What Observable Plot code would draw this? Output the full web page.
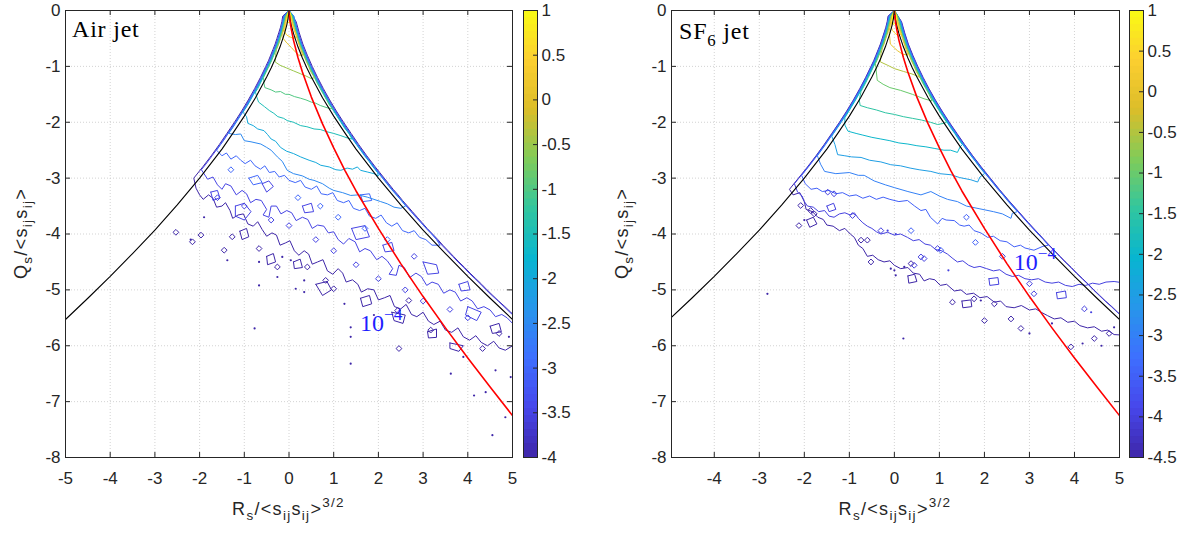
<!DOCTYPE html>
<html><head><meta charset="utf-8">
<script src="https://cdn.jsdelivr.net/npm/d3@7"></script>
<script src="https://cdn.jsdelivr.net/npm/@observablehq/plot@0.6"></script>
<style>
html,body{margin:0;padding:0;background:#fff;}
#chart{position:relative;width:1183px;height:537px;overflow:hidden;background:#fff;}
#chart>div{position:absolute;top:0;}
</style></head><body><div id="chart"></div>
<script>
const FONT = "'Liberation Sans', Arial, Helvetica, sans-serif";
const SERIF = "'Liberation Serif', 'Times New Roman', serif";
const INK = "#262626";

// ---------- axes / ticks ----------
const xTicksAir = [-5,-4,-3,-2,-1,0,1,2,3,4,5];
const xTicksSF6 = [-4,-3,-2,-1,0,1,2,3,4,5];
const yTicks = [-8,-7,-6,-5,-4,-3,-2,-1,0];
const cbTicksAir = [-4,-3.5,-3,-2.5,-2,-1.5,-1,-0.5,0,0.5,1];
const cbTicksSF6 = [-4.5,-4,-3.5,-3,-2.5,-2,-1.5,-1,-0.5,0,0.5,1];

// ---------- Vieillefosse (black) line ----------
const vieilleR = [-5,-4.5,-4,-3.5,-3,-2.5,-2,-1.75,-1.5,-1.25,-1,-0.75,-0.5,-0.4,-0.3,-0.2,-0.1,-0.05,-0.02,0,0.02,0.05,0.1,0.2,0.3,0.4,0.5,0.75,1,1.25,1.5,1.75,2,2.5,3,3.5,4,4.5,5];
const vieilleQ = [-5.53,-5.15,-4.76,-4.35,-3.93,-3.48,-3.0,-2.74,-2.48,-2.19,-1.89,-1.56,-1.19,-1.03,-0.85,-0.65,-0.41,-0.26,-0.14,0,-0.14,-0.26,-0.41,-0.65,-0.85,-1.03,-1.19,-1.56,-1.89,-2.19,-2.48,-2.74,-3.0,-3.48,-3.93,-4.35,-4.76,-5.15,-5.53];

// ---------- red line ----------
const redR = [0,0.02,0.05,0.1,0.2,0.3,0.5,0.75,1,1.25,1.5,2,2.5,3,3.5,4,4.5,5];
const redQAir = [0,-0.18,-0.33,-0.53,-0.84,-1.1,-1.55,-2.03,-2.46,-2.86,-3.23,-3.9,-4.53,-5.12,-5.68,-6.22,-6.74,-7.25];
const redQSF6 = [0,-0.18,-0.33,-0.53,-0.84,-1.1,-1.55,-2.03,-2.46,-2.86,-3.23,-3.9,-4.53,-5.12,-5.68,-6.22,-6.74,-7.25];

// ---------- Air jet contours: [log10 level, "R,Q R,Q ..."] ----------
const airContours = [
 [1, "0,0 -0.03,-0.08 -0.05,-0.16 -0.02,-0.22 0.03,-0.2 0.05,-0.12 0.02,-0.04 0,0"],
 [0.5, "0,0 -0.03,-0.1 -0.06,-0.2 -0.09,-0.3 -0.1,-0.38 -0.05,-0.44 0.04,-0.48 0.12,-0.5 0.17,-0.45 0.12,-0.35 0.09,-0.28 0.06,-0.2 0.03,-0.1 0,0"],
 [0, "0,0 -0.05,-0.1 -0.08,-0.2 -0.1,-0.3 -0.14,-0.4 -0.13,-0.5 -0.05,-0.58 0.05,-0.66 0.14,-0.74 0.22,-0.8 0.31,-0.8 0.26,-0.7 0.22,-0.6 0.18,-0.5 0.14,-0.4 0.1,-0.3 0.07,-0.2 0.05,-0.1 0,0"],
 [-0.5, "0,0 -0.06,-0.1 -0.09,-0.2 -0.12,-0.3 -0.15,-0.4 -0.19,-0.5 -0.23,-0.6 -0.28,-0.7 -0.3,-0.8 -0.31,-0.92 -0.2,-0.98 -0.05,-1.03 0.1,-1.08 0.25,-1.13 0.4,-1.18 0.5,-1.22 0.57,-1.2 0.49,-1.1 0.44,-1.0 0.38,-0.9 0.33,-0.8 0.28,-0.7 0.23,-0.6 0.19,-0.5 0.15,-0.4 0.11,-0.3 0.08,-0.2 0.05,-0.1 0,0"],
 [-1, "0,0 -0.07,-0.1 -0.1,-0.2 -0.13,-0.3 -0.16,-0.4 -0.2,-0.5 -0.24,-0.6 -0.29,-0.7 -0.34,-0.8 -0.39,-0.9 -0.45,-1.0 -0.51,-1.1 -0.57,-1.2 -0.56,-1.3 -0.54,-1.38 -0.4,-1.42 -0.3,-1.46 -0.19,-1.45 -0.08,-1.5 0.0,-1.5 0.12,-1.54 0.26,-1.57 0.38,-1.6 0.5,-1.64 0.6,-1.66 0.7,-1.7 0.85,-1.74 0.98,-1.76 0.91,-1.7 0.84,-1.6 0.77,-1.5 0.7,-1.4 0.63,-1.3 0.57,-1.2 0.51,-1.1 0.45,-1.0 0.39,-0.9 0.34,-0.8 0.29,-0.7 0.24,-0.6 0.2,-0.5 0.16,-0.4 0.13,-0.3 0.1,-0.2 0.07,-0.1 0,0"],
 [-1.5, "0,0 -0.08,-0.1 -0.11,-0.2 -0.14,-0.3 -0.17,-0.4 -0.21,-0.5 -0.25,-0.6 -0.3,-0.7 -0.35,-0.8 -0.4,-0.9 -0.46,-1.0 -0.52,-1.1 -0.58,-1.2 -0.64,-1.3 -0.7,-1.4 -0.75,-1.46 -0.72,-1.55 -0.68,-1.64 -0.55,-1.72 -0.44,-1.79 -0.34,-1.84 -0.25,-1.9 -0.12,-1.93 -0.04,-1.97 0.1,-2.0 0.26,-2.06 0.4,-2.08 0.56,-2.12 0.7,-2.13 0.85,-2.17 1.0,-2.2 1.16,-2.24 1.3,-2.28 1.41,-2.3 1.34,-2.2 1.24,-2.1 1.16,-2.0 1.08,-1.9 1.0,-1.8 0.92,-1.7 0.85,-1.6 0.78,-1.5 0.71,-1.4 0.64,-1.3 0.58,-1.2 0.52,-1.1 0.46,-1.0 0.4,-0.9 0.35,-0.8 0.3,-0.7 0.25,-0.6 0.21,-0.5 0.17,-0.4 0.14,-0.3 0.11,-0.2 0.08,-0.1 0,0"],
 [-2, "0,0 -0.09,-0.1 -0.12,-0.2 -0.15,-0.3 -0.18,-0.4 -0.22,-0.5 -0.26,-0.6 -0.31,-0.7 -0.36,-0.8 -0.41,-0.9 -0.47,-1.0 -0.53,-1.1 -0.59,-1.2 -0.65,-1.3 -0.72,-1.4 -0.79,-1.5 -0.86,-1.6 -0.93,-1.7 -1.03,-1.82 -0.95,-1.9 -0.92,-2.02 -0.8,-2.06 -0.7,-2.12 -0.56,-2.15 -0.48,-2.22 -0.4,-2.3 -0.3,-2.34 -0.19,-2.45 -0.05,-2.52 0.1,-2.56 0.26,-2.62 0.45,-2.68 0.6,-2.72 0.71,-2.77 0.9,-2.8 1.05,-2.85 1.16,-2.86 1.3,-2.82 1.42,-2.84 1.53,-2.8 1.6,-2.86 1.75,-2.89 1.9,-2.92 2.0,-2.96 1.98,-2.9 1.88,-2.8 1.79,-2.7 1.69,-2.6 1.6,-2.5 1.51,-2.4 1.42,-2.3 1.34,-2.2 1.25,-2.1 1.17,-2.0 1.09,-1.9 1.01,-1.8 0.93,-1.7 0.86,-1.6 0.79,-1.5 0.72,-1.4 0.65,-1.3 0.59,-1.2 0.53,-1.1 0.47,-1.0 0.41,-0.9 0.36,-0.8 0.31,-0.7 0.26,-0.6 0.22,-0.5 0.18,-0.4 0.15,-0.3 0.12,-0.2 0.09,-0.1 0,0"],
 [-2.5, "0,0 -0.1,-0.1 -0.13,-0.2 -0.16,-0.3 -0.19,-0.4 -0.23,-0.5 -0.27,-0.6 -0.32,-0.7 -0.37,-0.8 -0.42,-0.9 -0.48,-1.0 -0.54,-1.1 -0.6,-1.2 -0.66,-1.3 -0.73,-1.4 -0.8,-1.5 -0.87,-1.6 -0.94,-1.7 -1.02,-1.8 -1.1,-1.9 -1.18,-2.0 -1.26,-2.1 -1.35,-2.2 -1.2,-2.22 -1.08,-2.21 -1.0,-2.33 -0.85,-2.35 -0.63,-2.39 -0.5,-2.45 -0.4,-2.5 -0.26,-2.62 -0.15,-2.7 -0.04,-2.86 0.1,-2.92 0.3,-2.96 0.45,-3.02 0.56,-3.04 0.75,-3.1 0.9,-3.18 1.0,-3.22 1.2,-3.26 1.38,-3.31 1.55,-3.3 1.75,-3.34 1.9,-3.38 2.05,-3.42 2.2,-3.46 2.35,-3.52 2.5,-3.54 2.61,-3.5 2.52,-3.4 2.4,-3.3 2.29,-3.2 2.19,-3.1 2.09,-3.0 1.99,-2.9 1.89,-2.8 1.8,-2.7 1.7,-2.6 1.61,-2.5 1.52,-2.4 1.43,-2.3 1.35,-2.2 1.26,-2.1 1.18,-2.0 1.1,-1.9 1.02,-1.8 0.94,-1.7 0.87,-1.6 0.8,-1.5 0.73,-1.4 0.66,-1.3 0.6,-1.2 0.54,-1.1 0.48,-1.0 0.42,-0.9 0.37,-0.8 0.32,-0.7 0.27,-0.6 0.23,-0.5 0.19,-0.4 0.16,-0.3 0.13,-0.2 0.1,-0.1 0,0"],
 [-3, "0,0 -0.11,-0.1 -0.14,-0.2 -0.17,-0.3 -0.2,-0.4 -0.24,-0.5 -0.28,-0.6 -0.33,-0.7 -0.38,-0.8 -0.43,-0.9 -0.49,-1.0 -0.55,-1.1 -0.61,-1.2 -0.67,-1.3 -0.74,-1.4 -0.81,-1.5 -0.88,-1.6 -0.95,-1.7 -1.03,-1.8 -1.11,-1.9 -1.19,-2.0 -1.27,-2.1 -1.36,-2.2 -1.44,-2.3 -1.53,-2.4 -1.62,-2.5 -1.5,-2.6 -1.4,-2.55 -1.3,-2.66 -1.18,-2.6 -1.08,-2.68 -0.98,-2.74 -0.86,-2.68 -0.76,-2.78 -0.64,-2.84 -0.54,-2.78 -0.44,-2.9 -0.32,-2.88 -0.22,-2.98 -0.1,-2.95 0.0,-3.04 0.14,-3.08 0.26,-3.04 0.36,-3.16 0.5,-3.2 0.62,-3.14 0.72,-3.28 0.86,-3.3 0.98,-3.26 1.08,-3.4 1.22,-3.44 1.34,-3.4 1.44,-3.54 1.58,-3.58 1.7,-3.54 1.8,-3.68 1.94,-3.72 2.06,-3.66 2.18,-3.8 2.3,-3.86 2.42,-3.8 2.54,-3.94 2.68,-3.98 2.8,-3.94 2.92,-4.06 3.06,-4.1 3.2,-4.2 3.38,-4.2 3.3,-4.1 3.2,-4.0 3.07,-3.9 2.96,-3.8 2.84,-3.7 2.73,-3.6 2.62,-3.5 2.51,-3.4 2.41,-3.3 2.3,-3.2 2.2,-3.1 2.1,-3.0 2.0,-2.9 1.9,-2.8 1.81,-2.7 1.71,-2.6 1.62,-2.5 1.53,-2.4 1.44,-2.3 1.36,-2.2 1.27,-2.1 1.19,-2.0 1.11,-1.9 1.03,-1.8 0.95,-1.7 0.88,-1.6 0.81,-1.5 0.74,-1.4 0.67,-1.3 0.61,-1.2 0.55,-1.1 0.49,-1.0 0.43,-0.9 0.38,-0.8 0.33,-0.7 0.28,-0.6 0.24,-0.5 0.2,-0.4 0.17,-0.3 0.14,-0.2 0.11,-0.1 0,0"],
 [-3.5, "0,0 -0.12,-0.1 -0.14,-0.2 -0.17,-0.3 -0.21,-0.4 -0.25,-0.5 -0.29,-0.6 -0.34,-0.7 -0.39,-0.8 -0.44,-0.9 -0.5,-1.0 -0.62,-1.2 -0.75,-1.4 -0.89,-1.6 -1.04,-1.8 -1.2,-2.0 -1.37,-2.2 -1.54,-2.4 -1.72,-2.6 -1.86,-2.75 -1.96,-2.85 -1.82,-3.02 -1.7,-2.98 -1.6,-3.12 -1.5,-3.2 -1.42,-3.1 -1.3,-3.14 -1.18,-3.3 -1.05,-3.22 -0.95,-3.28 -0.86,-3.44 -0.74,-3.38 -0.62,-3.4 -0.5,-3.56 -0.58,-3.66 -0.45,-3.7 -0.4,-3.5 -0.28,-3.5 -0.18,-3.64 -0.05,-3.58 0.06,-3.62 0.16,-3.76 0.3,-3.7 0.42,-3.74 0.52,-3.9 0.64,-3.84 0.78,-3.86 0.88,-3.98 1.0,-3.96 1.1,-4.1 1.22,-4.18 1.34,-4.08 1.48,-4.14 1.58,-4.32 1.7,-4.26 1.82,-4.3 1.96,-4.46 2.08,-4.4 2.2,-4.48 2.32,-4.62 2.24,-4.72 2.4,-4.74 2.46,-4.56 2.58,-4.6 2.7,-4.78 2.84,-4.7 2.96,-4.76 3.08,-4.92 3.2,-4.86 3.34,-4.9 3.46,-5.06 3.6,-5.0 3.72,-5.04 3.84,-5.2 3.98,-5.14 4.1,-5.2 4.22,-5.34 4.36,-5.3 4.5,-5.36 4.62,-5.48 4.76,-5.44 4.88,-5.5 5.0,-5.6 5.3,-5.65 5.3,-5.5 5.08,-5.5 4.94,-5.4 4.81,-5.3 4.68,-5.2 4.54,-5.1 4.41,-5.0 4.29,-4.9 4.16,-4.8 4.03,-4.7 3.91,-4.6 3.78,-4.5 3.66,-4.4 3.54,-4.3 3.42,-4.2 3.31,-4.1 3.19,-4.0 3.07,-3.9 2.96,-3.8 2.85,-3.7 2.74,-3.6 2.63,-3.5 2.52,-3.4 2.42,-3.3 2.31,-3.2 2.21,-3.1 2.11,-3.0 2.01,-2.9 1.91,-2.8 1.72,-2.6 1.54,-2.4 1.37,-2.2 1.2,-2.0 1.04,-1.8 0.89,-1.6 0.75,-1.4 0.62,-1.2 0.5,-1.0 0.39,-0.8 0.29,-0.6 0.21,-0.4 0.14,-0.2 0,0"],
 [-4, "0,0 -0.14,-0.1 -0.16,-0.2 -0.19,-0.3 -0.23,-0.4 -0.27,-0.5 -0.31,-0.6 -0.36,-0.7 -0.41,-0.8 -0.46,-0.9 -0.52,-1.0 -0.64,-1.2 -0.77,-1.4 -0.91,-1.6 -1.06,-1.8 -1.22,-2.0 -1.39,-2.2 -1.56,-2.4 -1.74,-2.6 -1.93,-2.8 -2.13,-3.0 -2.08,-3.18 -2.0,-3.3 -1.92,-3.38 -1.8,-3.3 -1.7,-3.36 -1.62,-3.52 -1.5,-3.5 -1.42,-3.44 -1.32,-3.58 -1.26,-3.72 -1.14,-3.66 -1.02,-3.64 -0.92,-3.82 -0.8,-3.86 -0.7,-3.78 -0.6,-3.92 -0.5,-4.04 -0.38,-3.98 -0.28,-4.02 -0.2,-4.2 -0.08,-4.16 0.02,-4.12 0.12,-4.3 0.22,-4.38 0.34,-4.3 0.44,-4.36 0.52,-4.54 0.64,-4.5 0.76,-4.46 0.86,-4.66 0.98,-4.72 1.1,-4.62 1.2,-4.7 1.28,-4.86 1.42,-4.82 1.54,-4.9 1.62,-5.04 1.76,-4.98 1.9,-5.0 2.0,-5.18 2.14,-5.14 2.26,-5.1 2.36,-5.3 2.5,-5.34 2.62,-5.26 2.74,-5.44 2.86,-5.48 3.0,-5.4 3.12,-5.56 3.24,-5.62 3.38,-5.56 3.5,-5.72 3.64,-5.76 3.78,-5.68 3.9,-5.84 4.04,-5.9 4.18,-5.82 4.3,-5.94 4.44,-6.0 4.58,-5.92 4.7,-6.04 4.84,-6.08 5.0,-6.0 5.3,-6.05 5.3,-5.6 5.1,-5.5 4.96,-5.4 4.83,-5.3 4.69,-5.2 4.56,-5.1 4.43,-5.0 4.31,-4.9 4.18,-4.8 4.05,-4.7 3.93,-4.6 3.8,-4.5 3.68,-4.4 3.56,-4.3 3.44,-4.2 3.33,-4.1 3.21,-4.0 3.09,-3.9 2.98,-3.8 2.87,-3.7 2.76,-3.6 2.65,-3.5 2.54,-3.4 2.44,-3.3 2.33,-3.2 2.23,-3.1 2.13,-3.0 2.03,-2.9 1.93,-2.8 1.74,-2.6 1.56,-2.4 1.39,-2.2 1.22,-2.0 1.06,-1.8 0.91,-1.6 0.77,-1.4 0.64,-1.2 0.52,-1.0 0.41,-0.8 0.31,-0.6 0.23,-0.4 0.16,-0.2 0,0"],
 [-3.5, "-1.2,-3.5 -1.0,-3.45 -0.85,-3.6 -1.0,-3.75 -1.2,-3.68 -1.2,-3.5"],
 [-3.5, "1.4,-3.9 1.7,-3.85 1.8,-4.05 1.5,-4.1 1.4,-3.9"],
 [-3.5, "3.0,-4.5 3.3,-4.55 3.35,-4.7 3.1,-4.72 3.0,-4.5"],
 [-3.5, "4.0,-5.3 4.3,-5.4 4.2,-5.55 3.95,-5.45 4.0,-5.3"],
 [-3.5, "-1.75,-3.25 -1.6,-3.22 -1.55,-3.35 -1.7,-3.4 -1.75,-3.25"],
 [-3.5, "-0.6,-3.1 -0.45,-3.05 -0.35,-3.15 -0.5,-3.25 -0.6,-3.1"],
 [-3.5, "0.3,-3.5 0.5,-3.45 0.55,-3.6 0.35,-3.62 0.3,-3.5"],
 [-3.5, "2.1,-4.2 2.3,-4.15 2.35,-4.3 2.15,-4.32 2.1,-4.2"],
 [-3.5, "3.8,-4.9 4.0,-4.85 4.05,-5.0 3.85,-5.02 3.8,-4.9"],
 [-4, "0.6,-4.9 0.85,-4.85 0.95,-5.0 0.75,-5.1 0.6,-4.9"],
 [-4, "2.3,-5.4 2.6,-5.45 2.55,-5.6 2.35,-5.55 2.3,-5.4"],
 [-4, "-0.5,-4.4 -0.35,-4.35 -0.3,-4.5 -0.48,-4.55 -0.5,-4.4"],
 [-4, "3.6,-5.95 3.9,-6.0 3.8,-6.1 3.6,-6.05 3.6,-5.95"],
 [-4, "-1.1,-3.95 -0.95,-3.9 -0.9,-4.05 -1.05,-4.1 -1.1,-3.95"],
 [-4, "0.1,-4.5 0.25,-4.45 0.3,-4.6 0.12,-4.62 0.1,-4.5"],
 [-4, "1.6,-5.15 1.8,-5.1 1.85,-5.25 1.65,-5.3 1.6,-5.15"],
 [-4, "3.1,-5.75 3.3,-5.7 3.3,-5.85 3.12,-5.86 3.1,-5.75"],
 [-4, "4.5,-5.65 4.7,-5.6 4.75,-5.75 4.55,-5.78 4.5,-5.65"],
 [-3, "-0.9,-3.0 -0.7,-2.95 -0.6,-3.08 -0.8,-3.12 -0.9,-3.0"],
 [-3, "1.6,-3.3 1.8,-3.28 1.85,-3.4 1.65,-3.42 1.6,-3.3"]
];
const airLoops = [
 [-2.53,-3.97,-4],[-2.16,-4.14,-4],[-1.97,-4.02,-4],[-1.45,-4.29,-4],[-1.27,-4.05,-4],[-0.67,-4.26,-4],[-0.26,-4.59,-4],[0.41,-4.59,-4],[0.82,-4.83,-4],[1.0,-4.98,-4],[2.43,-5.37,-4],[2.68,-5.19,-4],[3.17,-5.72,-4],[2.46,-6.05,-4],[4.33,-6.05,-4],[4.7,-5.78,-4],
 [-1.0,-3.5,-3.5],[0.0,-3.85,-3.5],[1.0,-4.3,-3.5],[2.0,-4.8,-3.5],[3.0,-5.2,-3.5],[4.0,-5.5,-3.5],[-1.6,-3.35,-3.5],[-0.4,-3.75,-3.5],[0.6,-4.1,-3.5],[1.5,-4.55,-3.5],[2.6,-5.0,-3.5],[3.6,-5.35,-3.5],[2.8,-4.4,-3.5],
 [0.2,-3.35,-3],[1.1,-3.7,-3],[2.2,-4.1,-3],[-1.3,-2.85,-3],[0.7,-3.5,-3],[1.7,-3.9,-3]
];
const airSpecks = [
 [-0.67,-4.5,-4],[-0.67,-4.92,-4],[-0.26,-4.77,-4],[-0.15,-4.41,-4],[0.04,-4.47,-4],[0.15,-4.98,-4],[0.34,-5.04,-4],[0.34,-4.83,-4],[1.24,-5.25,-4],[1.38,-5.67,-4],[1.38,-5.84,-4],[1.38,-6.32,-4],[-0.77,-5.69,-4],[3.62,-6.5,-4],[4.14,-6.89,-4],[4.4,-6.83,-4],[4.62,-6.44,-4],[4.84,-7.28,-4],[4.55,-7.6,-4],[4.96,-6.56,-4],[4.92,-5.84,-4],[-1.38,-4.47,-4],[-2.2,-4.1,-4],[1.9,-5.45,-4],[3.9,-6.2,-4],[-1.9,-3.7,-4]
];

// ---------- SF6 jet contours ----------
const sf6Contours = [
 [1, "0,0 -0.03,-0.08 -0.05,-0.18 -0.02,-0.25 0.03,-0.22 0.05,-0.12 0.02,-0.04 0,0"],
 [0.5, "0,0 -0.03,-0.1 -0.06,-0.2 -0.08,-0.28 -0.04,-0.36 0.03,-0.42 0.1,-0.46 0.15,-0.42 0.11,-0.35 0.08,-0.28 0.06,-0.2 0.03,-0.1 0,0"],
 [0, "0,0 -0.05,-0.1 -0.08,-0.2 -0.1,-0.3 -0.12,-0.38 -0.1,-0.5 -0.09,-0.6 0.0,-0.67 0.07,-0.72 0.18,-0.78 0.3,-0.8 0.26,-0.7 0.22,-0.6 0.18,-0.5 0.14,-0.4 0.1,-0.3 0.07,-0.2 0.05,-0.1 0,0"],
 [-0.5, "0,0 -0.06,-0.1 -0.09,-0.2 -0.12,-0.3 -0.15,-0.4 -0.19,-0.5 -0.23,-0.6 -0.26,-0.66 -0.3,-0.78 -0.31,-0.92 -0.15,-0.98 0.0,-1.04 0.2,-1.09 0.37,-1.13 0.5,-1.17 0.57,-1.2 0.49,-1.1 0.44,-1.0 0.38,-0.9 0.33,-0.8 0.28,-0.7 0.23,-0.6 0.19,-0.5 0.15,-0.4 0.11,-0.3 0.08,-0.2 0.05,-0.1 0,0"],
 [-1, "0,0 -0.07,-0.1 -0.1,-0.2 -0.13,-0.3 -0.16,-0.4 -0.2,-0.5 -0.24,-0.6 -0.29,-0.7 -0.34,-0.8 -0.39,-0.9 -0.42,-0.95 -0.4,-1.1 -0.38,-1.25 -0.25,-1.32 -0.1,-1.38 0.14,-1.43 0.4,-1.5 0.66,-1.58 0.84,-1.62 0.77,-1.5 0.7,-1.4 0.63,-1.3 0.57,-1.2 0.51,-1.1 0.45,-1.0 0.39,-0.9 0.34,-0.8 0.29,-0.7 0.24,-0.6 0.2,-0.5 0.16,-0.4 0.13,-0.3 0.1,-0.2 0.07,-0.1 0,0"],
 [-1.5, "0,0 -0.08,-0.1 -0.11,-0.2 -0.14,-0.3 -0.17,-0.4 -0.21,-0.5 -0.25,-0.6 -0.3,-0.7 -0.35,-0.8 -0.4,-0.9 -0.46,-1.0 -0.52,-1.1 -0.58,-1.2 -0.64,-1.3 -0.74,-1.45 -0.78,-1.6 -0.76,-1.7 -0.6,-1.74 -0.4,-1.78 -0.2,-1.83 0.0,-1.86 0.2,-1.9 0.4,-1.93 0.6,-1.96 0.8,-2.0 0.96,-2.04 1.1,-2.02 1.16,-2.0 1.08,-1.9 1.0,-1.8 0.92,-1.7 0.85,-1.6 0.78,-1.5 0.71,-1.4 0.64,-1.3 0.58,-1.2 0.52,-1.1 0.46,-1.0 0.4,-0.9 0.35,-0.8 0.3,-0.7 0.25,-0.6 0.21,-0.5 0.17,-0.4 0.14,-0.3 0.11,-0.2 0.08,-0.1 0,0"],
 [-2, "0,0 -0.09,-0.1 -0.12,-0.2 -0.15,-0.3 -0.18,-0.4 -0.22,-0.5 -0.26,-0.6 -0.31,-0.7 -0.36,-0.8 -0.41,-0.9 -0.47,-1.0 -0.59,-1.2 -0.72,-1.4 -0.86,-1.6 -1.01,-1.8 -1.1,-1.92 -1.1,-2.05 -1.03,-2.16 -0.85,-2.2 -0.7,-2.23 -0.5,-2.27 -0.3,-2.3 -0.1,-2.33 0.1,-2.37 0.3,-2.39 0.5,-2.42 0.7,-2.44 0.9,-2.47 1.1,-2.5 1.25,-2.5 1.4,-2.54 1.46,-2.44 1.51,-2.4 1.42,-2.3 1.34,-2.2 1.25,-2.1 1.17,-2.0 1.01,-1.8 0.86,-1.6 0.72,-1.4 0.59,-1.2 0.47,-1.0 0.36,-0.8 0.26,-0.6 0.18,-0.4 0.12,-0.2 0,0"],
 [-2.5, "0,0 -0.1,-0.1 -0.13,-0.2 -0.16,-0.3 -0.19,-0.4 -0.23,-0.5 -0.27,-0.6 -0.32,-0.7 -0.37,-0.8 -0.42,-0.9 -0.48,-1.0 -0.6,-1.2 -0.73,-1.4 -0.87,-1.6 -1.02,-1.8 -1.18,-2.0 -1.35,-2.2 -1.39,-2.25 -1.32,-2.4 -1.26,-2.58 -1.1,-2.6 -0.95,-2.62 -0.74,-2.63 -0.55,-2.68 -0.3,-2.71 -0.08,-2.76 0.14,-2.78 0.35,-2.82 0.55,-2.85 0.81,-2.88 1.0,-2.92 1.26,-2.94 1.45,-2.99 1.7,-3.03 1.85,-3.07 1.9,-2.98 2.0,-2.92 1.99,-2.9 1.89,-2.8 1.8,-2.7 1.7,-2.6 1.61,-2.5 1.52,-2.4 1.35,-2.2 1.18,-2.0 1.02,-1.8 0.87,-1.6 0.73,-1.4 0.6,-1.2 0.48,-1.0 0.37,-0.8 0.27,-0.6 0.19,-0.4 0.13,-0.2 0,0"],
 [-3, "0,0 -0.11,-0.1 -0.14,-0.2 -0.17,-0.3 -0.2,-0.4 -0.24,-0.5 -0.28,-0.6 -0.33,-0.7 -0.38,-0.8 -0.43,-0.9 -0.49,-1.0 -0.61,-1.2 -0.74,-1.4 -0.88,-1.6 -1.03,-1.8 -1.19,-2.0 -1.36,-2.2 -1.53,-2.4 -1.71,-2.6 -1.64,-2.75 -1.55,-2.88 -1.3,-2.92 -1.0,-2.9 -0.8,-2.95 -0.67,-2.95 -0.45,-3.05 -0.2,-3.12 0.0,-3.17 0.3,-3.24 0.59,-3.3 0.81,-3.24 1.0,-3.32 1.18,-3.38 1.4,-3.42 1.6,-3.5 1.9,-3.55 2.2,-3.6 2.4,-3.64 2.59,-3.72 2.62,-3.63 2.73,-3.6 2.62,-3.5 2.51,-3.4 2.41,-3.3 2.3,-3.2 2.2,-3.1 2.1,-3.0 1.9,-2.8 1.71,-2.6 1.53,-2.4 1.36,-2.2 1.19,-2.0 1.03,-1.8 0.88,-1.6 0.74,-1.4 0.61,-1.2 0.49,-1.0 0.38,-0.8 0.28,-0.6 0.2,-0.4 0.14,-0.2 0,0"],
 [-3.5, "0,0 -0.12,-0.1 -0.14,-0.2 -0.17,-0.3 -0.21,-0.4 -0.25,-0.5 -0.29,-0.6 -0.34,-0.7 -0.39,-0.8 -0.44,-0.9 -0.5,-1.0 -0.62,-1.2 -0.75,-1.4 -0.89,-1.6 -1.04,-1.8 -1.2,-2.0 -1.37,-2.2 -1.54,-2.4 -1.72,-2.6 -1.91,-2.8 -2.06,-2.95 -1.98,-3.1 -1.85,-3.2 -1.72,-3.18 -1.6,-3.24 -1.45,-3.22 -1.3,-3.28 -1.15,-3.26 -1.0,-3.32 -0.85,-3.3 -0.7,-3.36 -0.55,-3.32 -0.4,-3.38 -0.25,-3.34 -0.1,-3.38 0.1,-3.42 0.29,-3.4 0.45,-3.5 0.59,-3.58 0.7,-3.56 0.8,-3.7 0.96,-3.82 1.06,-3.72 1.15,-3.75 1.33,-3.76 1.45,-3.84 1.55,-3.86 1.66,-3.84 1.77,-3.94 1.92,-3.98 2.07,-4.06 2.2,-4.04 2.35,-4.12 2.5,-4.14 2.66,-4.23 2.8,-4.2 2.9,-4.25 3.1,-4.29 3.3,-4.22 3.42,-4.2 3.31,-4.1 3.19,-4.0 2.96,-3.8 2.74,-3.6 2.52,-3.4 2.31,-3.2 2.11,-3.0 1.91,-2.8 1.72,-2.6 1.54,-2.4 1.37,-2.2 1.2,-2.0 1.04,-1.8 0.89,-1.6 0.75,-1.4 0.62,-1.2 0.5,-1.0 0.39,-0.8 0.29,-0.6 0.21,-0.4 0.14,-0.2 0,0"],
 [-4, "0,0 -0.13,-0.1 -0.15,-0.2 -0.18,-0.3 -0.22,-0.4 -0.26,-0.5 -0.3,-0.6 -0.35,-0.7 -0.4,-0.8 -0.45,-0.9 -0.51,-1.0 -0.63,-1.2 -0.76,-1.4 -0.9,-1.6 -1.05,-1.8 -1.21,-2.0 -1.38,-2.2 -1.55,-2.4 -1.73,-2.6 -1.92,-2.8 -2.12,-3.0 -2.22,-3.1 -2.15,-3.25 -2.05,-3.32 -2.0,-3.42 -1.93,-3.5 -1.8,-3.52 -1.68,-3.6 -1.55,-3.58 -1.45,-3.68 -1.34,-3.7 -1.22,-3.64 -1.1,-3.62 -0.98,-3.66 -0.89,-3.62 -0.8,-3.72 -0.7,-3.8 -0.6,-3.86 -0.5,-3.9 -0.4,-3.96 -0.3,-4.0 -0.15,-3.97 0.0,-4.02 0.14,-4.0 0.29,-4.06 0.42,-4.12 0.55,-4.1 0.68,-4.18 0.8,-4.2 0.92,-4.28 1.05,-4.3 1.18,-4.36 1.3,-4.44 1.4,-4.5 1.52,-4.48 1.65,-4.56 1.77,-4.6 1.9,-4.58 2.05,-4.62 2.2,-4.66 2.34,-4.64 2.48,-4.72 2.62,-4.76 2.76,-4.74 2.9,-4.8 3.05,-4.82 3.2,-4.8 3.35,-4.86 3.5,-4.88 3.65,-4.86 3.8,-4.92 3.95,-4.94 4.1,-4.9 4.25,-4.92 4.4,-4.88 4.55,-4.9 4.7,-4.86 4.88,-4.85 5.3,-4.9 5.3,-5.6 5.09,-5.5 4.95,-5.4 4.82,-5.3 4.68,-5.2 4.55,-5.1 4.42,-5.0 4.3,-4.9 4.17,-4.8 4.04,-4.7 3.92,-4.6 3.79,-4.5 3.67,-4.4 3.55,-4.3 3.43,-4.2 3.2,-4.0 2.97,-3.8 2.75,-3.6 2.53,-3.4 2.32,-3.2 2.12,-3.0 1.92,-2.8 1.73,-2.6 1.55,-2.4 1.38,-2.2 1.21,-2.0 1.05,-1.8 0.9,-1.6 0.76,-1.4 0.63,-1.2 0.51,-1.0 0.4,-0.8 0.3,-0.6 0.22,-0.4 0.15,-0.2 0,0"],
 [-4.5, "0,0 -0.14,-0.1 -0.16,-0.2 -0.19,-0.3 -0.23,-0.4 -0.27,-0.5 -0.31,-0.6 -0.36,-0.7 -0.41,-0.8 -0.46,-0.9 -0.52,-1.0 -0.64,-1.2 -0.77,-1.4 -0.91,-1.6 -1.06,-1.8 -1.22,-2.0 -1.39,-2.2 -1.56,-2.4 -1.74,-2.6 -1.93,-2.8 -2.13,-3.0 -2.33,-3.2 -2.25,-3.3 -2.1,-3.26 -2.0,-3.42 -1.96,-3.56 -1.82,-3.6 -1.7,-3.7 -1.58,-3.74 -1.5,-3.84 -1.36,-3.86 -1.22,-3.94 -1.1,-3.9 -0.98,-4.0 -0.89,-4.06 -0.8,-4.2 -0.7,-4.26 -0.6,-4.4 -0.48,-4.38 -0.36,-4.46 -0.23,-4.5 -0.1,-4.48 0.0,-4.56 0.14,-4.62 0.3,-4.6 0.42,-4.7 0.56,-4.72 0.66,-4.84 0.78,-4.8 0.9,-4.82 1.02,-4.92 1.16,-4.9 1.33,-5.02 1.48,-5.0 1.6,-5.08 1.76,-5.06 1.9,-5.14 2.06,-5.12 2.22,-5.22 2.36,-5.2 2.48,-5.3 2.66,-5.32 2.82,-5.28 3.0,-5.36 3.14,-5.34 3.26,-5.4 3.4,-5.46 3.55,-5.52 3.7,-5.5 3.85,-5.58 4.0,-5.56 4.12,-5.64 4.29,-5.68 4.44,-5.66 4.6,-5.74 4.74,-5.72 4.88,-5.8 5.3,-5.82 5.3,-5.7 5.1,-5.5 4.96,-5.4 4.83,-5.3 4.69,-5.2 4.56,-5.1 4.43,-5.0 4.31,-4.9 4.18,-4.8 4.05,-4.7 3.93,-4.6 3.8,-4.5 3.68,-4.4 3.56,-4.3 3.44,-4.2 3.21,-4.0 2.98,-3.8 2.76,-3.6 2.54,-3.4 2.33,-3.2 2.13,-3.0 1.93,-2.8 1.74,-2.6 1.56,-2.4 1.39,-2.2 1.22,-2.0 1.06,-1.8 0.91,-1.6 0.77,-1.4 0.64,-1.2 0.52,-1.0 0.41,-0.8 0.31,-0.6 0.23,-0.4 0.16,-0.2 0,0"],
 [-4.5, "-1.95,-3.75 -1.8,-3.7 -1.72,-3.82 -1.88,-3.88 -1.95,-3.75"],
 [-4.5, "0.3,-4.75 0.45,-4.72 0.5,-4.85 0.32,-4.88 0.3,-4.75"],
 [-4.5, "1.5,-5.2 1.7,-5.18 1.72,-5.3 1.52,-5.32 1.5,-5.2"],
 [-4, "-1.5,-3.5 -1.35,-3.45 -1.3,-3.56 -1.45,-3.6 -1.5,-3.5"],
 [-4, "2.1,-4.8 2.3,-4.78 2.32,-4.9 2.12,-4.92 2.1,-4.8"],
 [-4, "3.6,-5.05 3.8,-5.02 3.82,-5.14 3.62,-5.16 3.6,-5.05"]
];
const sf6Loops = [
 [-2.08,-3.49,-4.5],[-2.12,-3.85,-4.5],[-1.78,-3.64,-4.5],[-0.93,-3.67,-4],[-0.74,-4.11,-4.5],[-0.52,-4.5,-4.5],[0.44,-4.56,-4],[0.66,-4.44,-4],[1.03,-4.29,-3.5],[1.29,-5.22,-4.5],[1.77,-5.16,-4.5],[2.22,-5.25,-4.5],[2.0,-5.55,-4.5],[2.81,-5.69,-4.5],[3.0,-4.89,-4],[3.92,-6.02,-4.5],[4.44,-5.87,-4.5],[4.77,-5.78,-4.5],[4.22,-5.34,-4],[-1.48,-3.25,-4],[-1.34,-3.28,-4],[-0.6,-4.11,-4.5],[0.37,-4.53,-4.5],[0.59,-4.41,-4],[0.96,-4.26,-4],[-1.86,-3.58,-4.5],[3.1,-5.07,-4],[2.59,-5.52,-4.5],[0.37,-3.94,-3.5],[-0.3,-3.94,-4],[1.6,-3.7,-3.5],[2.4,-4.4,-4],[1.8,-4.15,-3.5]
];
const sf6Specks = [
 [-2.82,-5.07,-4.5],[0.2,-5.87,-4.5],[-0.08,-4.62,-4.5],[0.03,-4.74,-4.5],[3.0,-5.78,-4.5],[4.18,-5.96,-4.5],[4.88,-5.67,-4.5],[0.0,-4.65,-4.5],[0.22,-4.59,-4.5],[-0.15,-3.94,-4],[0.03,-4.0,-4],[1.92,-5.19,-4.5],[3.5,-5.6,-4.5],[4.6,-6.0,-4.5],[4.37,-5.4,-4],[1.2,-4.65,-4],[-2.0,-3.75,-4.5]
];

// ---------- parula colormap ----------
const parulaStops = ["#3e26a8","#4747eb","#3e6fff","#2796eb","#08b5d0","#31c69f","#80cc59","#dcbd29","#fccf30","#f9fb14"];
const parula = d3.piecewise(d3.interpolateRgb, parulaStops);

function toRows(list) {
  const rows = [];
  const ordered = list.map((c, i) => [c, i]).sort((a, b) => a[0][0] - b[0][0] || a[1] - b[1]);
  ordered.forEach(([[level, s]], id) => s.trim().split(/\s+/).forEach(p => {
    const [R, Q] = p.split(",").map(Number); rows.push({id, level, R, Q});
  }));
  return rows;
}
const triples = a => a.map(([R, Q, level]) => ({R, Q, level}));

function rich(svg, o, parts) {
  const size = o.size, sub = o.subScale || 0.7;
  const t = svg.append("text")
    .attr("transform", `translate(${o.x},${o.y}) rotate(${o.rotate || 0})`)
    .attr("text-anchor", o.anchor || "start")
    .attr("font-family", o.family).attr("font-size", size).attr("fill", o.fill || INK)
    .attr("letter-spacing", o.spacing || 0)
    .style("white-space", "pre");
  let cur = 0;
  for (const [s, kind] of parts) {
    const target = kind === "sub" ? 0.3 * size : kind === "sup" ? -0.45 * size : 0;
    t.append("tspan").attr("dy", target - cur).attr("font-size", kind === "n" ? size : size * sub).text(s);
    cur = target;
  }
}

function panel(o) {
  const H = 537, MT = 10, MB = 80;
  const FH = H - MT - MB, FW = o.width - o.ml - o.mr;
  const rows = toRows(o.contours);
  const vline = vieilleR.map((R, i) => ({R, Q: vieilleQ[i]}));
  const rline = redR.map((R, i) => ({R, Q: o.redQ[i]}));
  const fig = Plot.plot({
    width: o.width, height: H, marginLeft: o.ml, marginRight: o.mr, marginTop: MT, marginBottom: MB,
    style: {fontFamily: FONT, fontSize: "17px", color: INK, background: "transparent", overflow: "visible"},
    x: {domain: o.xDomain},
    y: {domain: [-8, 0]},
    color: {type: "linear", domain: o.cDomain, interpolate: parula},
    marks: [
      Plot.ruleX(o.xTicks, {stroke: "#c8c8c8", strokeDasharray: "1,2", strokeWidth: 0.8}),
      Plot.ruleY(yTicks, {stroke: "#c8c8c8", strokeDasharray: "1,2", strokeWidth: 0.8}),
      Plot.line(rows, {x: "R", y: "Q", z: "id", stroke: "level", strokeWidth: 1, clip: true}),
      Plot.dot(triples(o.loops), {x: "R", y: "Q", stroke: "level", symbol: "diamond2", r: 2.6, strokeWidth: 1, clip: true}),
      Plot.dot(triples(o.specks), {x: "R", y: "Q", fill: "level", r: 1.1, clip: true}),
      Plot.line(vline, {x: "R", y: "Q", stroke: "#000", strokeWidth: 1.1, clip: true}),
      Plot.line(rline, {x: "R", y: "Q", stroke: "#ff0000", strokeWidth: 1.6, clip: true}),
      Plot.tickX(o.xTicks, {x: d => d, insetTop: FH - 5, stroke: INK}),
      Plot.tickX(o.xTicks, {x: d => d, insetBottom: FH - 5, stroke: INK}),
      Plot.tickY(yTicks, {y: d => d, insetRight: FW - 5, stroke: INK}),
      Plot.tickY(yTicks, {y: d => d, insetLeft: FW - 5, stroke: INK}),
      Plot.frame({stroke: INK}),
      Plot.axisX({ticks: o.xTicks, tickSize: 0, tickPadding: 14, tickFormat: d => String(d), label: null, fontSize: 17}),
      Plot.axisY({ticks: yTicks, tickSize: 0, tickPadding: 5, tickFormat: d => String(d), label: null, fontSize: 17})
    ]
  });
  const svg = d3.select(fig);
  const sx = fig.scale("x"), sy = fig.scale("y");
  rich(svg, {x: o.titleX, y: o.titleY, size: 24, family: SERIF, fill: "#000", spacing: 0.8}, o.title);
  rich(svg, {x: sx.apply(o.labAt[0]), y: sy.apply(o.labAt[1]), size: 24, family: SERIF, fill: "#1f1fff", subScale: 0.72}, [["10", "n"], ["\u22124", "sup"]]);
  rich(svg, {x: o.ylabX, y: MT + FH / 2, rotate: -90, anchor: "middle", size: 18, family: FONT, spacing: 1.3, subScale: 0.75}, [["Q", "n"], ["s", "sub"], ["/<s", "n"], ["ij", "sub"], ["s", "n"], ["ij", "sub"], [">", "n"]]);
  rich(svg, {x: o.ml + FW / 2, y: 515, anchor: "middle", size: 18, family: FONT, spacing: 1.3, subScale: 0.75}, [["R", "n"], ["s", "sub"], ["/<s", "n"], ["ij", "sub"], ["s", "n"], ["ij", "sub"], [">", "n"], ["3/2", "sup"]]);
  return fig;
}

function colorbar(o) {
  const n = 64, [lo, hi] = o.domain, step = (hi - lo) / n;
  const bands = d3.range(n).map(i => ({y1: lo + i * step, y2: Math.min(hi, lo + (i + 1.15) * step), v: lo + (i + 0.5) * step}));
  const BW = 14;
  return Plot.plot({
    width: o.width, height: 537, marginLeft: 0, marginRight: o.width - BW, marginTop: 10, marginBottom: 80,
    style: {fontFamily: FONT, fontSize: "17px", color: INK, background: "transparent", overflow: "visible"},
    x: {domain: [0, 1], axis: null},
    y: {domain: o.domain, axis: null},
    color: {type: "linear", domain: o.domain, interpolate: parula},
    marks: [
      Plot.rect(bands, {x1: () => 0, x2: () => 1, y1: "y1", y2: "y2", fill: "v"}),
      Plot.tickY(o.ticks, {y: d => d, insetLeft: BW - 4, stroke: INK}),
      Plot.frame({stroke: INK}),
      Plot.axisY({anchor: "right", ticks: o.ticks, tickSize: 0, tickPadding: 4, tickFormat: d => String(d), label: null, fontSize: 17})
    ]
  });
}

function place(node, left) {
  const d = document.createElement("div");
  d.style.left = left + "px";
  d.appendChild(node);
  document.getElementById("chart").appendChild(d);
}

place(panel({
  width: 523, ml: 65, mr: 11, xDomain: [-5, 5], xTicks: xTicksAir, cDomain: [-4, 1],
  contours: airContours, loops: airLoops, specks: airSpecks, redQ: redQAir,
  title: [["Air jet", "n"]], titleX: 72, titleY: 37, labAt: [1.6, -5.75], ylabX: 27
}), 0);
place(colorbar({width: 60, domain: [-4, 1], ticks: cbTicksAir}), 523);
place(panel({
  width: 548, ml: 91, mr: 9, xDomain: [-4.95, 5], xTicks: xTicksSF6, cDomain: [-4.5, 1],
  contours: sf6Contours, loops: sf6Loops, specks: sf6Specks, redQ: redQSF6,
  title: [["SF", "n"], ["6", "sub"], ["\u00a0jet", "n"]], titleX: 99, titleY: 39, labAt: [2.66, -4.65], ylabX: 48
}), 580);
place(colorbar({width: 54, domain: [-4.5, 1], ticks: cbTicksSF6}), 1129);
</script></body></html>
